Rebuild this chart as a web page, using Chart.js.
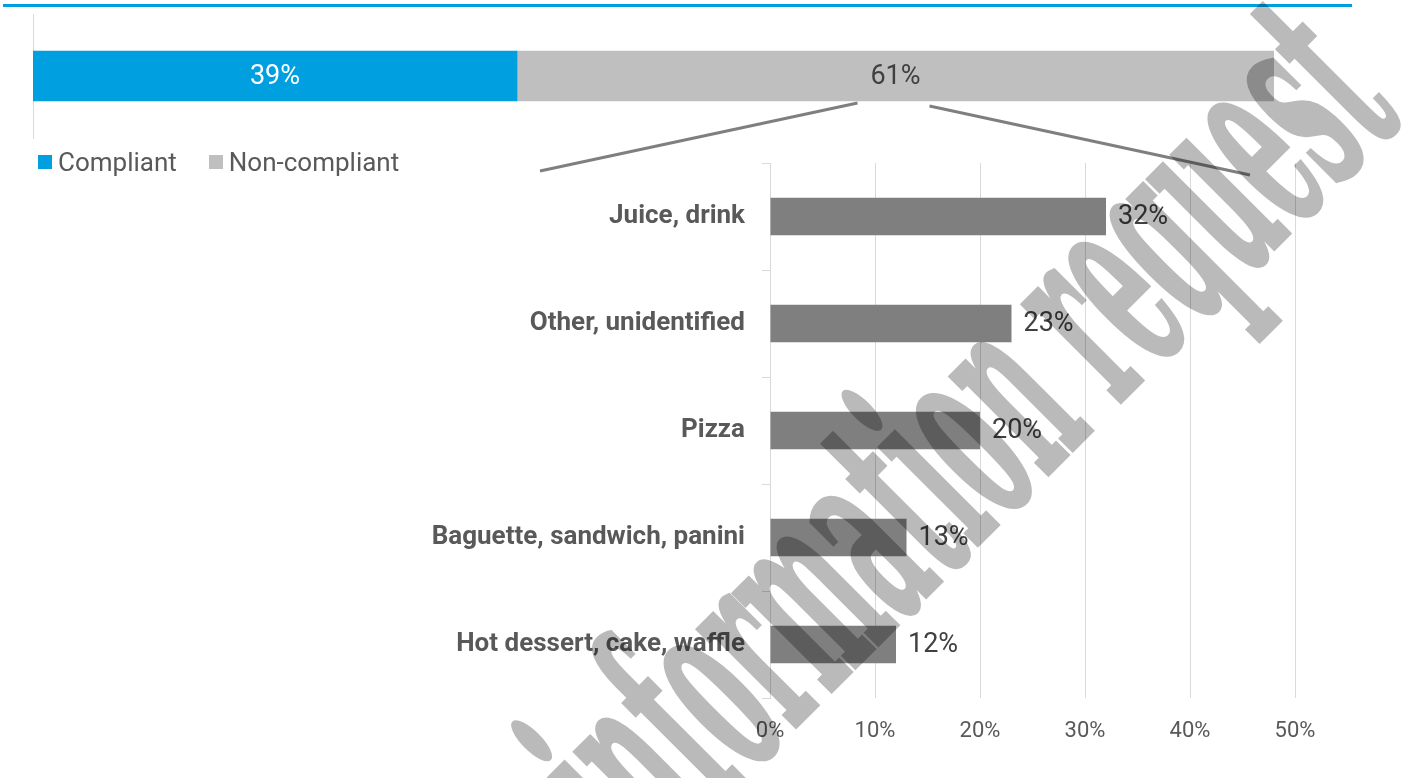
<!DOCTYPE html>
<html>
<head>
<meta charset="utf-8">
<title>Compliance and non-compliant products</title>
<script src="https://cdn.jsdelivr.net/npm/chart.js@4.4.1/dist/chart.umd.min.js"></script>
<style>
  html, body { margin: 0; padding: 0; background: #fff; }
  #wrap { position: relative; width: 1403px; height: 778px; overflow: hidden; font-family: Roboto, sans-serif; }
  #rule { position: absolute; left: 3px; top: 4px; width: 1349px; height: 3px; background: #009fe0; }
  canvas { position: absolute; left: 0; top: 0; }
  #legend { position: absolute; left: 38px; top: 147px; height: 30px; display: flex; align-items: center; font-size: 26px; color: #595959; }
  #legend .item { display: flex; align-items: center; margin-right: 32px; }
  #legend .box { display: inline-block; width: 14px; height: 14px; margin-right: 6px; }
</style>
</head>
<body>
<div id="wrap">
  <div id="rule"></div>
  <canvas id="shareChart" width="1403" height="778"></canvas>
  <div id="legend"></div>
  <canvas id="productChart" width="1403" height="778"></canvas>
</div>
<script>
// overall split
const shareLabels = ['Compliant', 'Non-compliant'];
const shareValues = [39, 61];
const shareColors = ['#009fe0', '#bfbfbf'];

// breakdown of the non-compliant part
const products = ['Juice, drink', 'Other, unidentified', 'Pizza', 'Baguette, sandwich, panini', 'Hot dessert, cake, waffle'];
const productShares = [32, 23, 20, 13, 12];
const percentTicks = [0, 10, 20, 30, 40, 50];

const FONT = 'Roboto';

// values written inside the stacked bar
const shareLabelPlugin = {
  id: 'shareLabels',
  afterDatasetsDraw(chart) {
    const ctx = chart.ctx;
    ctx.save();
    ctx.font = '27px ' + FONT;
    ctx.textAlign = 'center';
    ctx.textBaseline = 'middle';
    chart.data.datasets.forEach((ds, i) => {
      const bar = chart.getDatasetMeta(i).data[0];
      ctx.fillStyle = i === 0 ? '#ffffff' : '#404040';
      ctx.fillText(ds.data[0] + '%', (bar.base + bar.x) / 2, bar.y + 1);
    });
    ctx.restore();
  }
};

const shareChart = new Chart(document.getElementById('shareChart'), {
  type: 'bar',
  data: {
    labels: ['All'],
    datasets: shareLabels.map((label, i) => ({
      label: label,
      data: [shareValues[i]],
      backgroundColor: shareColors[i],
      barThickness: 50
    }))
  },
  options: {
    indexAxis: 'y',
    responsive: false,
    animation: false,
    layout: { padding: { left: 33, right: 129, top: 14, bottom: 640 } },
    plugins: { legend: { display: false }, tooltip: { enabled: false } },
    scales: {
      x: { stacked: true, min: 0, max: 100, display: false },
      y: {
        stacked: true,
        afterFit: scale => { scale.width = 0; },
        grid: { display: false },
        ticks: { display: false },
        border: { display: true, color: '#d9d9d9', width: 1 }
      }
    }
  },
  plugins: [shareLabelPlugin]
});

// legend under the stacked bar
const legendEl = document.getElementById('legend');
shareChart.data.datasets.forEach(ds => {
  const item = document.createElement('span');
  item.className = 'item';
  const box = document.createElement('span');
  box.className = 'box';
  box.style.background = ds.backgroundColor;
  item.appendChild(box);
  item.appendChild(document.createTextNode(ds.label));
  legendEl.appendChild(item);
});

// value labels, the two connector lines and the stamp
const productDecor = {
  id: 'productDecor',
  afterDatasetsDraw(chart) {
    const ctx = chart.ctx;
    const meta = chart.getDatasetMeta(0);
    ctx.save();
    ctx.font = '27px ' + FONT;
    ctx.fillStyle = '#404040';
    ctx.textAlign = 'left';
    ctx.textBaseline = 'middle';
    meta.data.forEach((bar, i) => {
      ctx.fillText(productShares[i] + '%', bar.x + 12, bar.y + 1);
    });
    ctx.restore();
  },
  afterDraw(chart) {
    const ctx = chart.ctx;
    const area = chart.chartArea;
    const seg = shareChart.getDatasetMeta(1).data[0];
    const mid = (seg.base + seg.x) / 2;
    const segBottom = seg.y + seg.height / 2;

    ctx.save();
    ctx.strokeStyle = '#7f7f7f';
    ctx.lineWidth = 3;
    ctx.beginPath();
    ctx.moveTo(area.left - 230, area.top + 8);
    ctx.lineTo(mid - 38, segBottom + 2);
    ctx.moveTo(mid + 34, segBottom + 5);
    ctx.lineTo(area.right - 45, area.top + 12);
    ctx.stroke();
    ctx.restore();

    // diagonal stamp: drawn opaque off-screen, then laid over at low alpha
    const stamp = 'information request';
    const off = document.createElement('canvas');
    off.width = chart.width;
    off.height = chart.height;
    const oc = off.getContext('2d');
    oc.translate(976, 450);
    oc.rotate(-Math.PI / 4);
    oc.font = 'bold 265px "DejaVu Serif"';
    const w = oc.measureText(stamp).width;
    oc.scale(1075 / w, 1);
    oc.textAlign = 'center';
    oc.textBaseline = 'alphabetic';
    oc.fillStyle = '#000';
    oc.strokeStyle = '#000';
    oc.lineWidth = 5;
    oc.lineJoin = 'miter';
    oc.fillText(stamp, 0, 68);
    oc.strokeText(stamp, 0, 68);

    ctx.save();
    ctx.globalAlpha = 0.27;
    ctx.drawImage(off, 0, 0);
    ctx.restore();
  }
};

new Chart(document.getElementById('productChart'), {
  type: 'bar',
  data: {
    labels: products,
    datasets: [{
      label: 'Non-compliant',
      data: productShares,
      backgroundColor: '#7f7f7f',
      categoryPercentage: 1,
      barPercentage: 0.35
    }]
  },
  options: {
    indexAxis: 'y',
    responsive: false,
    animation: false,
    layout: { padding: { left: 0, right: 108, top: 163, bottom: 0 } },
    plugins: { legend: { display: false }, tooltip: { enabled: false } },
    scales: {
      x: {
        min: 0,
        max: 50,
        afterBuildTicks: scale => { scale.ticks = percentTicks.map(v => ({ value: v })); },
        afterFit: scale => { scale.height = 80; },
        grid: { color: '#d9d9d9', lineWidth: 1, drawTicks: false },
        border: { display: false },
        ticks: {
          padding: 20,
          color: '#595959',
          font: { family: FONT, size: 22 },
          callback: v => v + '%'
        }
      },
      y: {
        afterFit: scale => { scale.width = 770; },
        grid: { drawOnChartArea: false, drawTicks: true, tickLength: 8, color: '#d9d9d9' },
        border: { display: true, color: '#d9d9d9', width: 1 },
        ticks: {
          padding: 17,
          color: '#595959',
          font: { family: FONT, size: 26, weight: 'bold' }
        }
      }
    }
  },
  plugins: [productDecor]
});
</script>
</body>
</html>
